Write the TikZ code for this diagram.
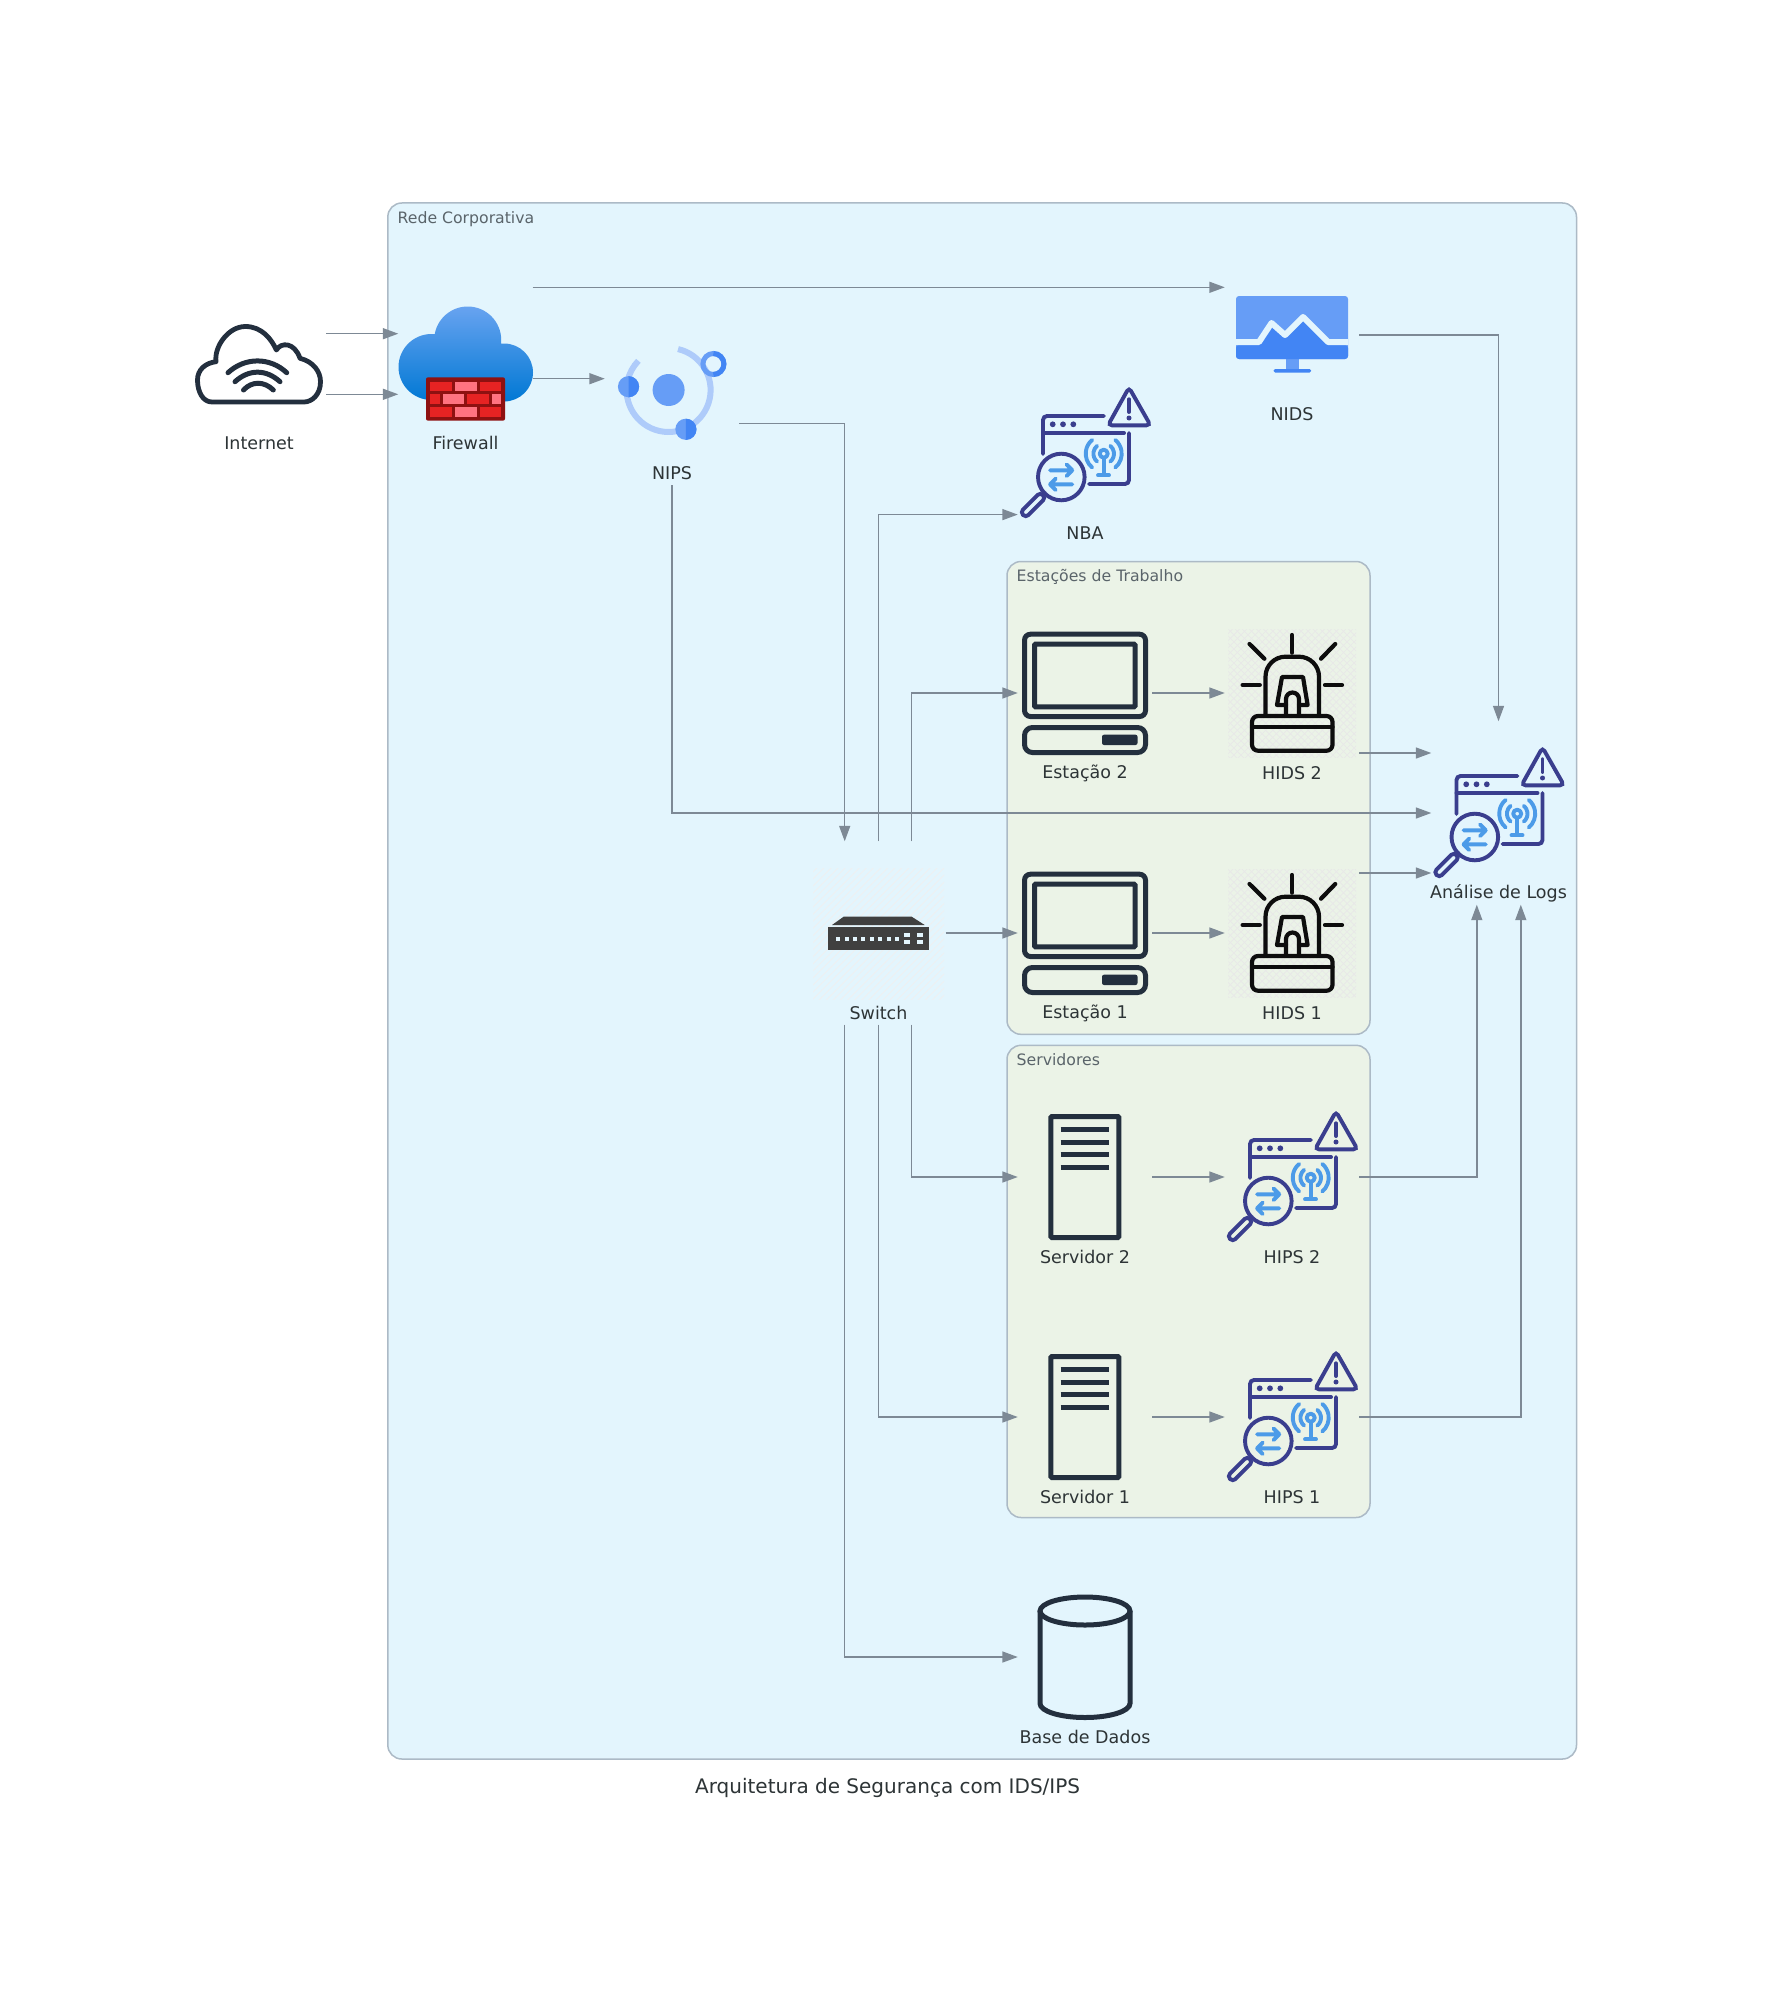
\documentclass[tikz,border=0pt]{standalone}
\usepackage{fontspec}
\setmainfont{DejaVu Sans}
\usetikzlibrary{arrows.meta,patterns.meta}
\definecolor{netblue}{RGB}{227,245,253}
\definecolor{subgreen}{RGB}{235,243,231}
\definecolor{borderline}{RGB}{172,186,198}
\definecolor{linkgray}{RGB}{125,137,149}
\definecolor{inkdark}{RGB}{35,47,62}
\definecolor{textdark}{RGB}{45,52,54}
\definecolor{grouptext}{RGB}{90,100,106}
\definecolor{secnavy}{RGB}{58,62,142}
\definecolor{secblue}{RGB}{76,155,232}
\definecolor{gblue}{RGB}{102,157,246}
\definecolor{gdark}{RGB}{66,133,244}
\definecolor{gpale}{RGB}{174,203,250}
\definecolor{cloudtop}{RGB}{104,163,240}
\definecolor{cloudlow}{RGB}{0,120,212}
\definecolor{brickdark}{RGB}{142,17,17}
\definecolor{brickred}{RGB}{230,35,35}
\definecolor{brickpink}{RGB}{255,115,129}
\tikzset{
  iconbox/.style={minimum width=134pt,minimum height=183pt,inner sep=0pt},
  iconlabel/.style={text=textdark,font=\fontsize{17.5pt}{20pt}\selectfont,inner sep=0pt},
  grouplabel/.style={text=grouptext,font=\fontsize{15.7pt}{18pt}\selectfont,anchor=west,inner sep=0pt},
  groupbox/.style={draw=borderline,line width=1.5pt,rounded corners=14pt},
  link/.style={draw=linkgray,line width=1.5pt,-{Triangle[length=15.5pt,width=11pt]}},
  inkline/.style={draw=inkdark,line width=5pt,rounded corners=6pt},
  secline/.style={draw=secnavy,line width=3.9pt,line cap=round,rounded corners=4pt},
  secwave/.style={draw=secblue,line width=3.9pt,line cap=round,line join=round},
  alarmline/.style={draw=black!95,line width=4.2pt,line cap=round,line join=round},
  secicon/.pic={
    % window
    \draw[secline] (-42,1) -- (-42,-37) -- (19,-37);
    \draw[secline] (-42,-20) -- (39,-20);
    \draw[secline] (44,-20) -- (44,31) -- (4,31);
    \foreach \dotx in {-32.3,-22,-11.7}
      \fill[secnavy] (\dotx,-28.7) circle[radius=2.9];
    % warning triangle
    \draw[secline] (44,-65.5) -- (23,-27.7) -- (65.5,-27.7) -- cycle;
    \draw[secline] (44,-53.7) -- (44,-41);
    \fill[secnavy] (44,-35) circle[radius=2.5];
    % antenna
    \draw[secwave] (18.7,0.7) circle[radius=4];
    \draw[secwave] (18.7,5) -- (18.7,21);
    \draw[secwave] (13,22.3) -- (24,22.3);
    \foreach \waver in {10.3,18}{
      \draw[secwave] ([shift={(50:\waver)}]18.7,0.7) arc[start angle=50,end angle=-50,radius=\waver];
      \draw[secwave] ([shift={(130:\waver)}]18.7,0.7) arc[start angle=130,end angle=230,radius=\waver];
    }
    % magnifier
    \draw[secline] (-23.7,24) circle[radius=23.3];
    \draw[secwave] (-35,17.3) -- (-12.7,17.3) (-18.5,11.5) -- (-12.7,17.3) -- (-18.5,23.1);
    \draw[secwave] (-12.7,31.3) -- (-35,31.3) (-29.2,25.5) -- (-35,31.3) -- (-29.2,37.1);
    \draw[secline] (-42,42) -- (-40,40);
    \draw[secline,rounded corners=3.5pt,shift={(-52,52)},rotate=45] (-14,-3.8) rectangle (14,3.8);
  },
  alarmicon/.pic={
    \fill[pattern={Hatch[angle=45,distance=5pt,line width=.7pt]},pattern color=black!9] (-64,-64) rectangle (64,64);
    \draw[alarmline] (0,-58) -- (0,-40.3);
    \draw[alarmline] (-49.4,-8) -- (-32.2,-8);
    \draw[alarmline] (33,-8) -- (50,-8);
    \draw[alarmline] (-42.5,-49) -- (-27.6,-34.3);
    \draw[alarmline] (43.2,-49) -- (29,-34.3);
    % dome and base
    \draw[alarmline,rounded corners=20pt] (-26.5,22) -- (-26.5,-36.3) -- (27,-36.3) -- (27,22);
    \draw[alarmline,rounded corners=6pt] (-40,23) rectangle (40.5,57.7);
    \draw[alarmline] (-40,33.7) -- (40.5,33.7);
    % lamp
    \draw[alarmline] (-6,12) -- (-15,12) -- (-10,-16) -- (11,-16) -- (15.6,12) -- (7,12);
    \draw[alarmline] (-6,22) -- (-6,6) arc[start angle=180,end angle=360,radius=6.5] -- (7,22);
  },
  stationicon/.pic={
    \draw[inkline] (-60.5,-58.8) rectangle (60.5,23.5);
    \draw[inkline,rounded corners=1pt] (-50.5,-48.8) rectangle (50,13.8);
    \draw[inkline,rounded corners=8pt] (-60.5,34.5) rectangle (60.5,59.5);
    \fill[inkdark,rounded corners=2pt] (17,41.7) rectangle (52.5,52);
  },
  servericon/.pic={
    \draw[inkline,rounded corners=1pt] (-34.2,-60.5) rectangle (33.8,60.5);
    \foreach \slot in {-47.7,-35,-22.3,-9.7}
      \draw[draw=inkdark,line width=5pt] (-24.3,\slot) -- (23.7,\slot);
  }
}
\begin{document}
\begin{tikzpicture}[x=1pt,y=-1pt]
    \useasboundingbox (0,0) rectangle (1778,1996);
    \fill[white] (0,0) rectangle (1778,1996);
    % Groups
    \draw[groupbox,fill=netblue] (387.8,203) rectangle (1576.5,1759);
    \draw[groupbox,fill=subgreen] (1007,561.5) rectangle (1370,1034.3);
    \draw[groupbox,fill=subgreen] (1007,1045.3) rectangle (1370,1517.5);
    \node[grouplabel] (netlabel) at (397.5,219) {Rede Corporativa};
    \node[grouplabel] (worklabel) at (1016.5,577) {Estações de Trabalho};
    \node[grouplabel] (srvlabel) at (1016.5,1060) {Servidores};
    % Node boxes
    \node[iconbox] (inet) at (259,364) {};
    \node[iconbox] (fw) at (465.5,364) {};
    \node[iconbox] (nips) at (672,393.7) {};
    \node[iconbox] (nids) at (1292,335) {};
    \node[iconbox] (nba) at (1085,453) {};
    \node[iconbox] (sw) at (878.5,933) {};
    \node[iconbox] (est2) at (1085,693) {};
    \node[iconbox] (est1) at (1085,933) {};
    \node[iconbox] (hids2) at (1292,693) {};
    \node[iconbox] (hids1) at (1292,933) {};
    \node[iconbox] (srv2) at (1085,1177) {};
    \node[iconbox] (srv1) at (1085,1417) {};
    \node[iconbox] (hips2) at (1292,1177) {};
    \node[iconbox] (hips1) at (1292,1417) {};
    \node[iconbox] (logs) at (1498.5,813) {};
    \node[iconbox] (db) at (1085,1657) {};
    % Labels
    \node[iconlabel] (inetlabel) at (259,443) {Internet};
    \node[iconlabel] (fwlabel) at (465.5,443) {Firewall};
    \node[iconlabel] (nipslabel) at (672,473) {NIPS};
    \node[iconlabel] (nidslabel) at (1292,414) {NIDS};
    \node[iconlabel] (nbalabel) at (1085,533) {NBA};
    \node[iconlabel] (swlabel) at (878.5,1013) {Switch};
    \node[iconlabel] (est2label) at (1085,773) {Estação 2};
    \node[iconlabel] (est1label) at (1085,1013) {Estação 1};
    \node[iconlabel] (hids2label) at (1292,773) {HIDS 2};
    \node[iconlabel] (hids1label) at (1292,1013) {HIDS 1};
    \node[iconlabel] (srv2label) at (1085,1257) {Servidor 2};
    \node[iconlabel] (srv1label) at (1085,1497) {Servidor 1};
    \node[iconlabel] (hips2label) at (1292,1257) {HIPS 2};
    \node[iconlabel] (hips1label) at (1292,1497) {HIPS 1};
    \node[iconlabel] (logslabel) at (1498.5,893) {Análise de Logs};
    \node[iconlabel] (dblabel) at (1085,1737) {Base de Dados};
    \node[text=textdark,font=\fontsize{20pt}{24pt}\selectfont,inner sep=0pt] (title) at (887.6,1788) {Arquitetura de Segurança com IDS/IPS};
    % Internet cloud
    \draw[draw=inkdark,line width=4.8pt,line join=round] (304,402) -- (212,402)
      .. controls (203,402) and (197.5,392) .. (197.5,380)
      .. controls (197.5,370) and (205,363) .. (216,361.7)
      .. controls (214,347) and (228,326.5) .. (245.4,326.5)
      .. controls (261.8,326.5) and (271.4,339) .. (276.4,350)
      .. controls (281,342) and (294.4,342) .. (300,358.3)
      .. controls (313.5,361.7) and (320.5,371.7) .. (320.5,381.7)
      .. controls (320.5,395) and (311.6,402) .. (304,402) -- cycle;
    \draw[draw=inkdark,line width=5pt,line cap=round] (228,372.7) .. controls (245,357) and (270,357) .. (286.7,372.7);
    \draw[draw=inkdark,line width=5pt,line cap=round] (235,381.7) .. controls (249,369) and (266,369) .. (280,381.7);
    \draw[draw=inkdark,line width=5pt,line cap=round] (243.5,390) .. controls (252,381) and (264,381) .. (273.3,390);
    % Firewall
    \shade[top color=cloudtop,bottom color=cloudlow]
      (431.5,367) circle[radius=33] (467.7,340) circle[radius=33.5] (504,372.5) circle[radius=29]
      (430,350) -- (505,350) -- (505,401.5) -- (430,401.5) -- cycle;
    \fill[brickdark,rounded corners=2pt] (426,377.3) rectangle (505,420.7);
    \foreach \rowy in {381.7,407}{
      \fill[brickred] (430.2,\rowy) rectangle (452,\rowy+9.5);
      \fill[brickpink] (455,\rowy) rectangle (477,\rowy+9.5);
      \fill[brickred] (480,\rowy) rectangle (501.4,\rowy+9.5);
    }
    \fill[brickred] (430.2,394.3) rectangle (439.8,403.7);
    \fill[brickpink] (442.5,394.3) rectangle (464,403.7);
    \fill[brickred] (467,394.3) rectangle (488.8,403.7);
    \fill[brickpink] (492.2,394.3) rectangle (501.4,403.7);
    % NIPS
    \draw[draw=gpale,line width=6pt] ([shift={(-77:42)}]668.6,390) arc[start angle=-77,end angle=224,radius=42];
    \fill[gblue] (668.6,390) circle[radius=16];
    \foreach \hubx/\huby in {628.5/386.7,685.9/429.3}{
      \fill[gblue] (\hubx,\huby) circle[radius=10.6];
      \fill[gdark] (\hubx,\huby-10.6) arc[start angle=-90,end angle=90,radius=10.6] -- cycle;
    }
    \draw[draw=gblue,line width=5pt] (713.4,364) circle[radius=10.5];
    \draw[draw=gdark,line width=5pt] (713.4,353.5) arc[start angle=-90,end angle=90,radius=10.5];
    % NIDS
    \begin{scope}[xshift=1pt]
    \fill[gblue,rounded corners=3pt] (1235,296) rectangle (1347,359);
    \fill[gblue] (1285,359) rectangle (1297.7,369);
    \fill[gdark,rounded corners=1.5pt] (1272.7,369) rectangle (1310,372.7);
    \fill[gdark,rounded corners=3pt] (1235,345) -- (1258,345) -- (1271,323) -- (1284,335) -- (1302,318) -- (1326,345) -- (1347,345) -- (1347,359) -- (1235,359) -- cycle;
    \draw[draw=netblue,line width=6pt,line join=round] (1235,342) -- (1258,342) -- (1270.5,323) -- (1284,335) -- (1302,317) -- (1327,342) -- (1347,342);
    \end{scope}
    % Switch
    \fill[pattern={Lines[angle=45,distance=5pt,line width=.7pt]},pattern color=black!6] (813,868) rectangle (944,999);
    \fill[black!75] (832,925) -- (843.6,916.7) -- (911.7,916.7) -- (924.7,925) -- cycle;
    \fill[black!75] (827.9,927.3) rectangle (928.5,950);
    \foreach \portx in {838.2,846.6,855,863.4,871.8,880.2,888.6,897}
      \fill[netblue] (\portx-2,937) rectangle (\portx+2,941);
    \foreach \portx in {904,916.5}
      \foreach \porty in {933.3,940}
        \fill[netblue] (\portx,\porty) rectangle (\portx+6,\porty+4);
    % Icons
    \pic at (1085,453) {secicon};
    \pic at (1498.5,813) {secicon};
    \pic at (1292,1177) {secicon};
    \pic at (1292,1417) {secicon};
    \pic at (1085,693) {stationicon};
    \pic at (1085,933) {stationicon};
    \pic at (1292,693) {alarmicon};
    \pic at (1292,933) {alarmicon};
    \pic at (1085,1177) {servericon};
    \pic at (1085,1417) {servericon};
    % Database
    \draw[draw=inkdark,line width=5pt] (1085,1611) ellipse[x radius=45,y radius=14];
    \draw[draw=inkdark,line width=5pt] (1040,1611) -- (1040,1703.5) arc[start angle=180,end angle=0,x radius=45,y radius=14] -- (1130,1611);
    % Connectors
    \draw[link] ([yshift=30.3pt]inet.east) -- ([yshift=30.3pt]fw.west);
    \draw[link] ([yshift=-30.3pt]inet.east) -- ([yshift=-30.3pt]fw.west);
    \draw[link] ([yshift=76.7pt]fw.east) -- ([yshift=47.7pt]nids.west);
    \draw[link] ([yshift=-14.7pt]fw.east) -- ([yshift=15pt]nips.west);
    \draw[link] ([yshift=-29.6pt]nips.east) -| ([xshift=-33.8pt]sw.north);
    \draw[link] (nips.south) |- (logs.west);
    \draw[link] (nids.east) -| (logs.north);
    \draw[link] (sw.north) |- ([yshift=-61.6pt]nba.west);
    \draw[link] ([xshift=33pt]sw.north) |- (est2.west);
    \draw[link] (sw.east) -- (est1.west);
    \draw[link] ([xshift=33pt]sw.south) |- (srv2.west);
    \draw[link] (sw.south) |- (srv1.west);
    \draw[link] ([xshift=-33.8pt]sw.south) |- (db.west);
    \draw[link] (est2.east) -- (hids2.west);
    \draw[link] (est1.east) -- (hids1.west);
    \draw[link] (srv2.east) -- (hips2.west);
    \draw[link] (srv1.east) -- (hips1.west);
    \draw[link] ([yshift=-60pt]hids2.east) -- ([yshift=60pt]logs.west);
    \draw[link] ([yshift=60pt]hids1.east) -- ([yshift=-60pt]logs.west);
    \draw[link] (hips2.east) -| ([xshift=-21.7pt]logs.south);
    \draw[link] (hips1.east) -| ([xshift=22.3pt]logs.south);
\end{tikzpicture}
\end{document}
